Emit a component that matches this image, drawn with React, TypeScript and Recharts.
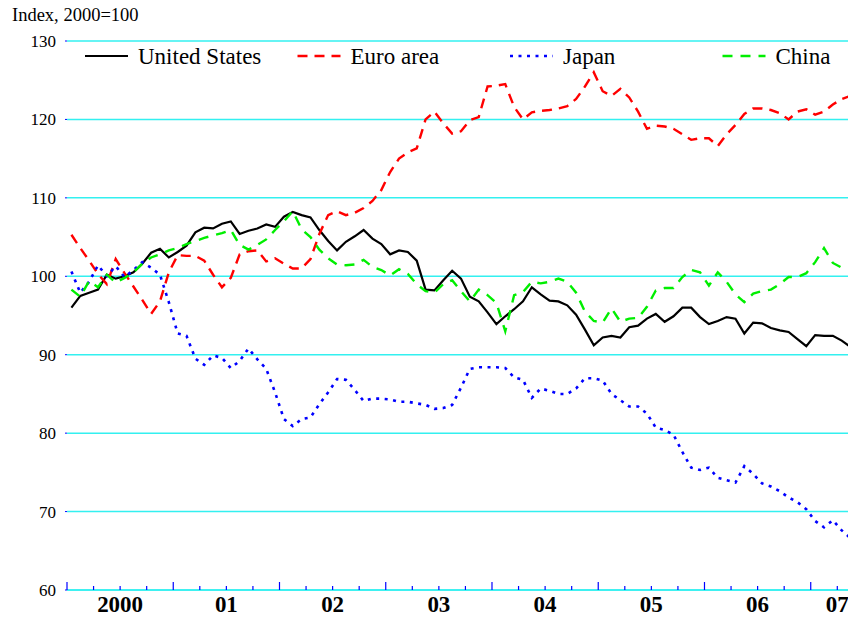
import React from "react";
import { LineChart, Line, XAxis, YAxis, CartesianGrid, Legend } from "recharts";

const FONT = "'Liberation Serif', 'Times New Roman', serif";

// monthly, Jan 2000 onwards; axis runs to mid-2007
const startYear = 2000;
const yearLabels = ["2000", "01", "02", "03", "04", "05", "06", "07"];
const axisMonths = 90;
const yTicks = [60, 70, 80, 90, 100, 110, 120, 130];

const unitedStates = [
  96.0, 97.5, 97.9, 98.3, 100.2, 99.7, 100.0, 100.5, 101.6, 103.0,
  103.5, 102.4, 103.1, 103.9, 105.6, 106.2, 106.1, 106.7, 107.0, 105.4,
  105.8, 106.1, 106.6, 106.3, 107.6, 108.2, 107.8, 107.5, 105.9, 104.5,
  103.3, 104.4, 105.1, 105.9, 104.8, 104.1, 102.8, 103.3, 103.1, 102.0,
  98.3, 98.2, 99.5, 100.7, 99.7, 97.4, 96.8, 95.4, 93.9, 94.9,
  95.8, 96.8, 98.6, 97.7, 96.9, 96.8, 96.3, 95.1, 93.2, 91.2,
  92.2, 92.4, 92.2, 93.5, 93.7, 94.6, 95.2, 94.2, 94.9, 96.0,
  96.0, 94.8, 93.9, 94.3, 94.8, 94.6, 92.7, 94.1, 94.0, 93.4,
  93.1, 92.9, 92.0, 91.1, 92.5, 92.4, 92.4, 91.8, 91.0,
];

const euroArea = [
  105.3, 103.6, 102.0, 100.3, 99.0, 102.2, 100.4, 98.7, 97.0, 95.2,
  96.8, 100.5, 102.7, 102.6, 102.6, 102.0, 100.2, 98.6, 99.8, 102.8,
  103.2, 103.3, 101.9, 102.3, 101.6, 101.0, 101.0, 102.2, 105.4, 107.8,
  108.3, 107.8, 108.1, 108.7, 109.6, 111.0, 113.3, 115.0, 115.8, 116.3,
  120.0, 121.0, 119.5, 118.2, 118.5, 119.9, 120.3, 124.2, 124.3, 124.5,
  121.6, 120.0, 120.9, 121.1, 121.2, 121.4, 121.7, 122.6, 124.2, 126.0,
  123.6, 123.0, 123.9, 122.8, 121.0, 118.8, 119.2, 119.1, 118.8, 118.1,
  117.4, 117.6, 117.6, 116.6, 118.1, 119.3, 120.7, 121.4, 121.4, 121.2,
  120.8, 120.0, 121.0, 121.3, 120.6, 121.0, 121.9, 122.6, 123.0,
];

const japan = [
  100.6, 97.9, 99.3, 101.4, 100.0, 101.3, 99.9, 100.8, 101.8, 101.1,
  100.2, 96.7, 92.7, 92.4, 89.5, 88.7, 89.9, 89.6, 88.3, 89.2,
  90.8, 89.4, 88.2, 85.2, 81.8, 80.9, 81.8, 82.0, 83.7, 85.2,
  86.9, 86.8, 85.5, 84.1, 84.4, 84.4, 84.3, 84.0, 84.0, 83.8,
  83.6, 83.1, 83.2, 83.6, 85.8, 88.2, 88.4, 88.4, 88.4, 88.3,
  87.1, 86.8, 84.5, 85.7, 85.4, 85.0, 85.0, 85.7, 87.0, 87.0,
  86.7, 85.0, 84.2, 83.4, 83.4, 82.5, 80.7, 80.4, 79.8, 77.6,
  75.6, 75.3, 75.6, 74.3, 74.0, 73.7, 75.8, 74.8, 73.6, 73.2,
  72.6, 71.8, 71.2, 70.3, 68.8, 68.0, 68.9, 67.6, 66.6,
];

const china = [
  98.3, 97.4, 99.4, 98.6, 100.2, 99.2, 99.8, 100.5, 101.6, 102.4,
  102.8, 103.3, 103.6, 104.1, 104.5, 104.9, 105.2, 105.5, 105.9, 104.0,
  103.4, 104.0, 104.7, 105.9, 107.0, 108.3, 106.0, 105.0, 103.4, 102.3,
  101.5, 101.4, 101.5, 102.1, 101.2, 100.8, 100.1, 100.9, 100.3, 99.0,
  98.1, 97.9, 99.0, 99.5, 98.1, 96.8, 98.3, 97.6, 96.6, 93.0,
  97.6, 98.0, 99.3, 99.1, 99.3, 99.7, 99.3, 97.9, 95.5, 94.3,
  94.1, 95.9, 94.2, 94.6, 94.7, 96.1, 98.2, 98.5, 98.5, 99.9,
  100.8, 100.5, 98.8, 100.5, 99.3, 97.7, 96.7, 97.8, 98.1, 98.3,
  99.0, 99.9, 99.9, 100.4, 101.8, 103.6, 101.7, 101.1, 100.9,
];

const series = [
  { key: "us", name: "United States", color: "#000000", dash: undefined, width: 2.2 },
  { key: "euro", name: "Euro area", color: "#ff0000", dash: "10 7", width: 2.4 },
  { key: "japan", name: "Japan", color: "#0000ff", dash: "3 5.5", width: 2.6 },
  { key: "china", name: "China", color: "#00ee00", dash: "10 8", width: 2.4 },
];

// x = month index + 0.5 so each point sits in the middle of its month
const rows = unitedStates.map((v, i) => ({
  m: i + 0.5,
  us: v,
  euro: euroArea[i],
  japan: japan[i],
  china: china[i],
}));

const quarterTicks = Array.from({ length: axisMonths / 3 + 1 }, (_, i) => i * 3);

// label each year at the middle of the part of it that is on the axis
const labelAt: Record<number, string> = {};
yearLabels.forEach((lab, i) => {
  const s = i * 12;
  const e = Math.min(s + 12, axisMonths);
  labelAt[(s + e) / 2] = lab;
});

function QuarterTick(props: any) {
  const { x, y, payload } = props;
  const v = payload.value;
  const major = v % 12 === 0;
  const lab = labelAt[v];
  return (
    <g>
      <line x1={x} x2={x} y1={y} y2={y - (major ? 8 : 4)} stroke="#0000ff" strokeWidth={1.2} />
      {lab && (
        <text x={x} y={y + 22} textAnchor="middle" fontFamily={FONT} fontSize={23} fontWeight="bold" fill="#000">
          {lab}
        </text>
      )}
    </g>
  );
}

function LegendRow() {
  return (
    <svg width={848} height={26}>
      {series.map((s, i) => {
        const x0 = 85 + i * 212.5;
        return (
          <g key={s.key}>
            <line x1={x0} x2={x0 + 43} y1={13} y2={13} stroke={s.color} strokeWidth={s.width} strokeDasharray={s.dash} />
            <text x={x0 + 53} y={13} dy="0.35em" fontFamily={FONT} fontSize={23} fill="#000">
              {s.name}
            </text>
          </g>
        );
      })}
    </svg>
  );
}

export default function App() {
  return (
    <div style={{ position: "fixed", left: 0, top: 0, width: 848, height: 619, overflow: "hidden", background: "#fff", fontFamily: FONT }}>
      <div style={{ position: "absolute", left: 12, top: 4, fontSize: 18.5, lineHeight: "22px" }}>
        Index, {startYear}=100
      </div>
      <LineChart width={67 + axisMonths * 8.854} height={619} data={rows} margin={{ top: 41, right: 0, bottom: 0, left: 0 }}>
        <CartesianGrid horizontal vertical={false} stroke="#33f0f0" strokeWidth={1.5} />
        <XAxis
          dataKey="m"
          type="number"
          domain={[0, axisMonths]}
          ticks={quarterTicks}
          interval={0}
          height={29}
          tickSize={0}
          tickMargin={0}
          tickLine={false}
          axisLine={{ stroke: "#33f0f0", strokeWidth: 1.5 }}
          tick={<QuarterTick />}
        />
        <YAxis
          domain={[60, 130]}
          ticks={yTicks}
          interval={0}
          width={67}
          axisLine={false}
          tickLine={{ stroke: "#0000ff" }}
          tickSize={2}
          tickMargin={9}
          tick={{ fill: "#000", fontSize: 17, fontFamily: FONT }}
        />
        <Legend
          layout="horizontal"
          verticalAlign="middle"
          wrapperStyle={{ top: 43, left: 0, width: 848 }}
          content={() => <LegendRow />}
        />
        {series.map((s) => (
          <Line
            key={s.key}
            type="linear"
            dataKey={s.key}
            name={s.name}
            stroke={s.color}
            strokeWidth={s.width}
            strokeDasharray={s.dash}
            dot={false}
            isAnimationActive={false}
          />
        ))}
      </LineChart>
    </div>
  );
}
